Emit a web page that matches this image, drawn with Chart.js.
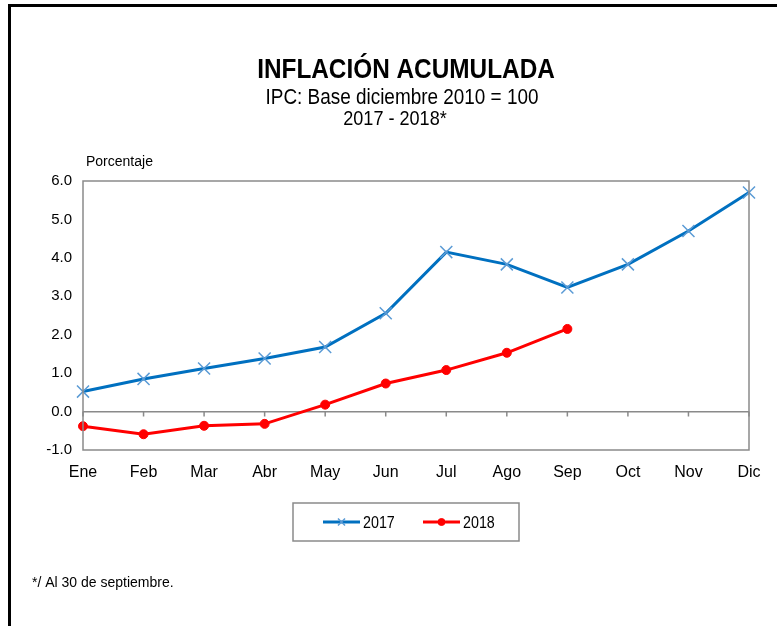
<!DOCTYPE html>
<html>
<head>
<meta charset="utf-8">
<script src="https://cdn.jsdelivr.net/npm/chart.js@4.4.1/dist/chart.umd.min.js"></script>
<style>
  body { margin: 0; background: #fff; }
  canvas { display: block; }
</style>
</head>
<body>
<canvas id="inflChart" width="777" height="626"></canvas>
<script>
const months = ["Ene", "Feb", "Mar", "Abr", "May", "Jun", "Jul", "Ago", "Sep", "Oct", "Nov", "Dic"];
const acum2017 = [0.52, 0.85, 1.12, 1.38, 1.68, 2.56, 4.15, 3.83, 3.23, 3.83, 4.70, 5.70];
const acum2018 = [-0.38, -0.59, -0.37, -0.32, 0.18, 0.73, 1.08, 1.53, 2.15, null, null, null];
const yRange = [-1, 6];
const titleLines = ["INFLACIÓN ACUMULADA", "IPC: Base diciembre 2010 = 100", "2017 - 2018*"];
const yLabel = "Porcentaje";
const footnote = "*/ Al 30 de septiembre.";

const SANS = "'Liberation Sans', Arial, sans-serif";
const GREY = "#8a8a8a";

// excel-ish condensed text: squeeze horizontally around x
function squeezedText(ctx, text, x, y, font, sx) {
  ctx.save();
  ctx.font = font;
  ctx.translate(x, y);
  ctx.scale(sx, 1);
  ctx.fillText(text, 0, 0);
  ctx.restore();
}

// frame, titles, zero line ticks, legend box and footnote
const decorations = {
  id: "decorations",
  beforeDraw(chart) {
    const ctx = chart.ctx;
    ctx.save();
    ctx.fillStyle = "#000";
    ctx.fillRect(8, 4, 769, 3);
    ctx.fillRect(8, 4, 3, 622);
    ctx.restore();
  },
  afterDraw(chart) {
    const { ctx, chartArea: a, scales } = chart;
    ctx.save();

    // plot frame
    ctx.strokeStyle = GREY;
    ctx.lineWidth = 1.5;
    ctx.strokeRect(a.left, a.top, a.right - a.left, a.bottom - a.top);

    // little ticks under the zero line
    const y0 = scales.y.getPixelForValue(0);
    ctx.beginPath();
    scales.x.ticks.forEach((t, i) => {
      const x = scales.x.getPixelForTick(i);
      ctx.moveTo(x, y0);
      ctx.lineTo(x, y0 + 5);
    });
    ctx.stroke();

    // titles
    ctx.fillStyle = "#000";
    ctx.textAlign = "center";
    ctx.textBaseline = "alphabetic";
    squeezedText(ctx, titleLines[0], 406, 78, "bold 28px " + SANS, 0.87);
    squeezedText(ctx, titleLines[1], 402, 104, "22px " + SANS, 0.86);
    squeezedText(ctx, titleLines[2], 395, 125, "21px " + SANS, 0.86);

    ctx.textAlign = "left";
    ctx.font = "14px " + SANS;
    ctx.fillText(yLabel, 86, 166);
    ctx.fillText(footnote, 32, 587);

    // legend
    ctx.strokeStyle = GREY;
    ctx.lineWidth = 1.5;
    ctx.strokeRect(293, 503, 226, 38);
    const itemX = [323, 423];
    chart.data.datasets.forEach((ds, i) => {
      const lx = itemX[i];
      const ly = 522;
      ctx.strokeStyle = ds.borderColor;
      ctx.lineWidth = 3;
      ctx.beginPath();
      ctx.moveTo(lx, ly);
      ctx.lineTo(lx + 37, ly);
      ctx.stroke();
      ctx.fillStyle = ds.pointBackgroundColor;
      ctx.strokeStyle = ds.pointBorderColor;
      ctx.lineWidth = ds.pointBorderWidth;
      Chart.helpers.drawPoint(ctx, {
        pointStyle: ds.pointStyle,
        radius: ds.pointStyle === "circle" ? 3.5 : 5,
        borderWidth: ds.pointBorderWidth,
        rotation: 0,
      }, lx + 18.5, ly);
      ctx.fillStyle = "#000";
      ctx.textAlign = "left";
      squeezedText(ctx, ds.label, lx + 40, ly + 6, "17px " + SANS, 0.84);
    });
    ctx.restore();
  },
};

const chart = new Chart(document.getElementById("inflChart"), {
  type: "line",
  data: {
    labels: months,
    datasets: [
      {
        label: "2017",
        data: acum2017,
        borderColor: "#0070c0",
        borderWidth: 3,
        pointStyle: "crossRot",
        pointRadius: 8.5,
        pointBorderWidth: 1.5,
        pointBorderColor: "#5b9bd5",
        pointBackgroundColor: "#5b9bd5",
        tension: 0,
      },
      {
        label: "2018",
        data: acum2018,
        borderColor: "#ff0000",
        borderWidth: 3,
        pointStyle: "circle",
        pointRadius: 4.5,
        pointBorderWidth: 1,
        pointBorderColor: "#ff0000",
        pointBackgroundColor: "#ff0000",
        tension: 0,
      },
    ],
  },
  options: {
    responsive: false,
    animation: false,
    events: [],
    layout: { padding: { top: 181, right: 28, left: 0, bottom: 0 } },
    plugins: {
      legend: { display: false },
      title: { display: false },
      tooltip: { enabled: false },
    },
    scales: {
      x: {
        offset: false,
        grid: { display: false, drawTicks: false },
        border: { display: false },
        ticks: {
          color: "#000",
          padding: 13,
          maxRotation: 0,
          autoSkip: false,
          font: { family: SANS, size: 16 },
        },
        afterFit: (scale) => { scale.height = 176; },
      },
      y: {
        min: yRange[0],
        max: yRange[1],
        grid: {
          drawTicks: false,
          color: (c) => (c.tick && c.tick.value === 0 ? GREY : "transparent"),
          lineWidth: 1.5,
        },
        border: { display: false },
        ticks: {
          stepSize: 1,
          color: "#000",
          padding: 11,
          font: { family: SANS, size: 15 },
          callback: (v) => v.toFixed(1),
        },
        afterFit: (scale) => { scale.width = 83; },
      },
    },
  },
  plugins: [decorations],
});
</script>
</body>
</html>
